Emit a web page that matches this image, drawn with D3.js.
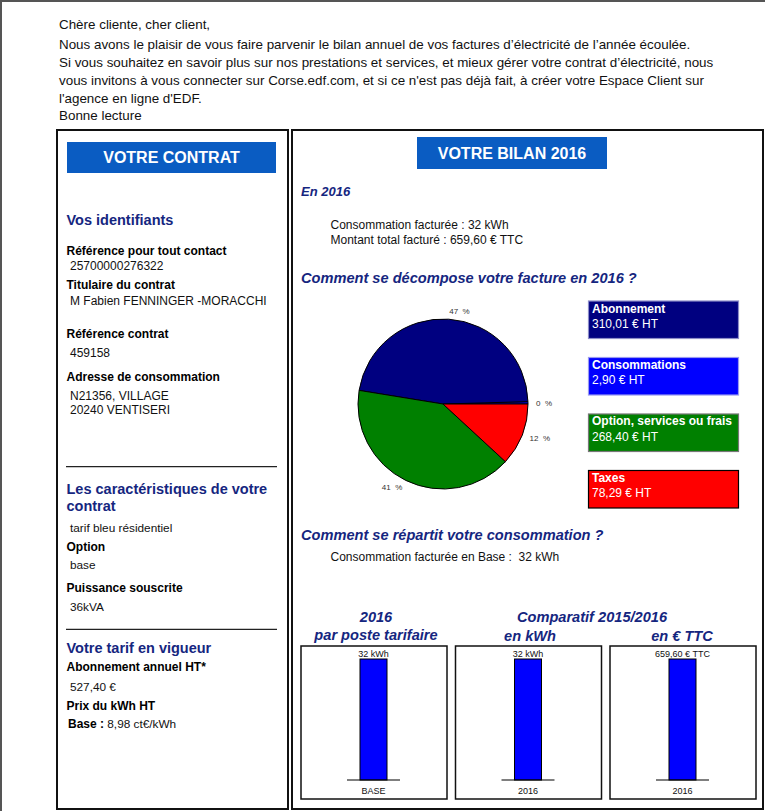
<!DOCTYPE html>
<html><head><meta charset="utf-8">
<script src="https://cdn.jsdelivr.net/npm/d3@7"></script>
<style>
body{margin:0;background:#fff}
svg{display:block}
text{font-family:"Liberation Sans",Arial,Helvetica,sans-serif}
</style>
</head><body>
<svg id="c" width="765" height="811"></svg>
<script>
// ---------- DATA ----------
const introLines = [
  "Chère cliente, cher client,",
  "Nous avons le plaisir de vous faire parvenir le bilan annuel de vos factures d’électricité de l’année écoulée.",
  "Si vous souhaitez en savoir plus sur nos prestations et services, et mieux gérer votre contrat d’électricité, nous",
  "vous invitons à vous connecter sur Corse.edf.com, et si ce n'est pas déjà fait, à créer votre Espace Client sur",
  "l'agence en ligne d'EDF.",
  "Bonne lecture"
];
const leftTitle = "VOTRE CONTRAT";
const rightTitle = "VOTRE BILAN 2016";
const identHeading = "Vos identifiants";
const identLabels = ["Référence pour tout contact", "Titulaire du contrat", "Référence contrat", "Adresse de consommation"];
const identValues = [["25700000276322"], ["M Fabien FENNINGER -MORACCHI"], ["459158"], ["N21356, VILLAGE", "20240 VENTISERI"]];
const caracHeading = ["Les caractéristiques de votre", "contrat"];
const caracLabels = ["", "Option", "Puissance souscrite"];
const caracValues = ["tarif bleu résidentiel", "base", "36kVA"];
const tarifHeading = "Votre tarif en vigueur";
const tarifLabels = ["Abonnement annuel HT*", "Prix du kWh HT"];
const tarifValues = ["527,40 €", ""];
const tarifBaseLabel = "Base :";
const tarifBaseValue = " 8,98 ct€/kWh";

const yearHeading = "En 2016";
const yearLines = ["Consommation facturée : 32 kWh", "Montant total facturé : 659,60 € TTC"];
const pieHeading = "Comment se décompose votre facture en 2016 ?";
const pieCategories = ["Abonnement", "Consommations", "Option, services ou frais", "Taxes"];
const pieValues = [310.01, 2.90, 268.40, 78.29];
const pieValueLabels = ["310,01 € HT", "2,90 € HT", "268,40 € HT", "78,29 € HT"];
const pieDrawOrder = ["Consommations", "Abonnement", "Option, services ou frais", "Taxes"];
const consoHeading = "Comment se répartit votre consommation ?";
const consoLine = "Consommation facturée en Base :  32 kWh";
const barHeadings = ["2016", "par poste tarifaire", "Comparatif 2015/2016", "en kWh", "en € TTC"];
const barCategories = ["BASE", "2016", "2016"];
const barValues = [32, 32, 659.60];
const barValueLabels = ["32 kWh", "32 kWh", "659,60 € TTC"];

// ---------- DRAW ----------
const svg = d3.select("#c");
const NAVY_TXT = "#15267f";
const HEAD_BLUE = "#0a5cc2";

function txt(x, y, s, o = {}) {
  return svg.append("text").attr("x", x).attr("y", y)
    .attr("font-size", o.size || 12)
    .attr("font-weight", o.bold ? "bold" : "normal")
    .attr("font-style", o.italic ? "italic" : "normal")
    .attr("fill", o.fill || "#111")
    .attr("text-anchor", o.anchor || "start")
    .style("white-space", "pre")
    .text(s);
}

// page border
svg.append("line").attr("x1", 0).attr("x2", 765).attr("y1", 1).attr("y2", 1).attr("stroke", "#555").attr("stroke-width", 2);
svg.append("line").attr("x1", 1).attr("x2", 1).attr("y1", 0).attr("y2", 811).attr("stroke", "#555").attr("stroke-width", 2);

// intro
const introY = [28.5, 48.5, 66.5, 84.5, 102.5, 119.5];
introLines.forEach((l, i) => txt(59, introY[i], l, {size: 13.4, fill: "#111"}));

// boxes
svg.append("rect").attr("x", 57).attr("y", 130).attr("width", 231).attr("height", 679)
  .attr("fill", "none").attr("stroke", "#111").attr("stroke-width", 2);
svg.append("rect").attr("x", 292).attr("y", 130).attr("width", 471).attr("height", 679)
  .attr("fill", "none").attr("stroke", "#111").attr("stroke-width", 2);

// headers
svg.append("rect").attr("x", 67).attr("y", 142).attr("width", 209).attr("height", 31).attr("fill", HEAD_BLUE);
txt(171.5, 162.5, leftTitle, {size: 16, bold: true, fill: "#fff", anchor: "middle"});
svg.append("rect").attr("x", 417).attr("y", 137).attr("width", 190).attr("height", 32).attr("fill", HEAD_BLUE);
txt(512, 158.5, rightTitle, {size: 16, bold: true, fill: "#fff", anchor: "middle"});

// left column
const LX = 66.5, VX = 70;
txt(LX, 225, identHeading, {size: 14.5, bold: true, fill: NAVY_TXT});
const identLabelY = [255, 289, 337.5, 380.5];
const identValueY = [[270], [304.5], [357], [400, 414]];
identLabels.forEach((l, i) => {
  txt(LX, identLabelY[i], l, {size: 12, bold: true, fill: "#000"});
  identValues[i].forEach((v, j) => txt(VX, identValueY[i][j], v, {size: 12}));
});
svg.append("line").attr("x1", 66).attr("x2", 277).attr("y1", 466.7).attr("y2", 466.7).attr("stroke", "#222").attr("stroke-width", 1.3);
txt(LX, 493.5, caracHeading[0], {size: 14.5, bold: true, fill: NAVY_TXT});
txt(LX, 511, caracHeading[1], {size: 14.5, bold: true, fill: NAVY_TXT});
const caracLabelY = [0, 550.5, 592];
const caracValueY = [531.5, 568.5, 610.5];
caracValues.forEach((v, i) => {
  if (caracLabels[i]) txt(LX, caracLabelY[i], caracLabels[i], {size: 12, bold: true, fill: "#000"});
  txt(VX, caracValueY[i], v, {size: 11.8});
});
svg.append("line").attr("x1", 66).attr("x2", 277).attr("y1", 629.3).attr("y2", 629.3).attr("stroke", "#222").attr("stroke-width", 1.3);
txt(LX, 653, tarifHeading, {size: 14.5, bold: true, fill: NAVY_TXT});
txt(LX, 671, tarifLabels[0], {size: 12, bold: true, fill: "#000"});
txt(VX, 690.5, tarifValues[0], {size: 11.8});
txt(LX, 709.5, tarifLabels[1], {size: 12, bold: true, fill: "#000"});
const bl = svg.append("text").attr("x", 68).attr("y", 727.5).attr("font-size", 12).attr("fill", "#111").style("white-space", "pre");
bl.append("tspan").attr("font-weight", "bold").attr("fill", "#000").text(tarifBaseLabel);
bl.append("tspan").attr("font-size", 11.8).text(tarifBaseValue);

// right column texts
const RX = 301;
txt(RX, 195.5, yearHeading, {size: 13, bold: true, italic: true, fill: NAVY_TXT});
txt(330.5, 228.5, yearLines[0], {size: 12});
txt(330.5, 244, yearLines[1], {size: 12});
txt(RX, 282.5, pieHeading, {size: 14.6, bold: true, italic: true, fill: NAVY_TXT});

// pie
const color = d3.scaleOrdinal().domain(pieCategories).range(["#000080", "#0000ff", "#008000", "#ff0000"]);
const total = d3.sum(pieValues);
const valueOf = c => pieValues[pieCategories.indexOf(c)];
const pie = d3.pie().value(valueOf).sort(null)
  .startAngle(Math.PI / 2).endAngle(Math.PI / 2 - 2 * Math.PI);
const arcs = pie(pieDrawOrder);
const R = 85, CX = 443, CY = 404;
const arc = d3.arc().innerRadius(0).outerRadius(R);
const pg = svg.append("g").attr("transform", `translate(${CX},${CY})`);
pg.selectAll("path").data(arcs).join("path")
  .attr("d", arc).attr("fill", d => color(d.data))
  .attr("stroke", "#000").attr("stroke-width", 1);
pg.selectAll("text").data(arcs).join("text")
  .each(function (d) {
    const a = (d.startAngle + d.endAngle) / 2;
    const x = 93 * Math.sin(a), y = -93 * Math.cos(a);
    d3.select(this).attr("x", x).attr("y", y).attr("dy", "0.35em")
      .attr("text-anchor", x >= 0 ? "start" : "end");
  })
  .attr("font-size", 8).attr("fill", "#333").style("white-space", "pre")
  .text(d => Math.round(valueOf(d.data) / total * 100) + "  %");

// legend boxes
const ly = d3.scaleBand().domain(pieCategories).range([301, 508]).paddingInner(0.336);
const lstroke = d3.scaleOrdinal().domain(pieCategories).range(["#8c8cc8", "#9a9af0", "#777", "#000"]);
const lg = svg.append("g").selectAll("g").data(pieCategories).join("g");
lg.append("rect").attr("x", 588.5).attr("y", d => ly(d)).attr("width", 150).attr("height", ly.bandwidth())
  .attr("fill", d => color(d)).attr("stroke", d => lstroke(d)).attr("stroke-width", 1.2);
lg.append("text").attr("x", 592).attr("y", d => ly(d) + 11.5).attr("font-size", 12).attr("font-weight", "bold")
  .attr("fill", "#fff").text(d => d);
lg.append("text").attr("x", 592).attr("y", d => ly(d) + 27).attr("font-size", 12)
  .attr("fill", "#fff").text((d, i) => pieValueLabels[i]);

// consumption
txt(RX, 540, consoHeading, {size: 14.6, bold: true, italic: true, fill: NAVY_TXT});
txt(330.5, 561, consoLine, {size: 12});

// bar headings
const bh = {size: 14.6, bold: true, italic: true, fill: NAVY_TXT, anchor: "middle"};
txt(376, 622, barHeadings[0], bh);
txt(376, 640, barHeadings[1], bh);
txt(592, 622, barHeadings[2], bh);
txt(530, 641, barHeadings[3], bh);
txt(682, 641, barHeadings[4], bh);

// bar panels
const panels = d3.scaleBand().domain(d3.range(barValues.length)).range([301, 756]).paddingInner(0.055);
const PT = 646, PH = 153, BASE = 780, TOP = 659;
barValues.forEach((v, i) => {
  const px = panels(i), pw = panels.bandwidth();
  const g = svg.append("g");
  g.append("rect").attr("x", px).attr("y", PT).attr("width", pw).attr("height", PH)
    .attr("fill", "#fff").attr("stroke", "#111").attr("stroke-width", 1.5);
  const x = d3.scaleBand().domain([barCategories[i]]).range([px + 46, px + 99]).padding(0.325);
  const y = d3.scaleLinear().domain([0, v]).range([BASE, TOP]);
  g.append("rect").attr("x", x(barCategories[i])).attr("y", y(v))
    .attr("width", x.bandwidth()).attr("height", y(0) - y(v))
    .attr("fill", "#0000ff").attr("stroke", "#000").attr("stroke-width", 1);
  g.append("line").attr("x1", px + 46).attr("x2", px + 99).attr("y1", y(0)).attr("y2", y(0))
    .attr("stroke", "#000").attr("stroke-width", 1.2);
  g.append("text").attr("x", x(barCategories[i]) + x.bandwidth() / 2).attr("y", y(v) - 2)
    .attr("text-anchor", "middle").attr("font-size", 9).attr("fill", "#111").text(barValueLabels[i]);
  g.append("text").attr("x", x(barCategories[i]) + x.bandwidth() / 2).attr("y", y(0) + 13.5)
    .attr("text-anchor", "middle").attr("font-size", 9).attr("fill", "#111").text(barCategories[i]);
});
</script>
</body></html>
